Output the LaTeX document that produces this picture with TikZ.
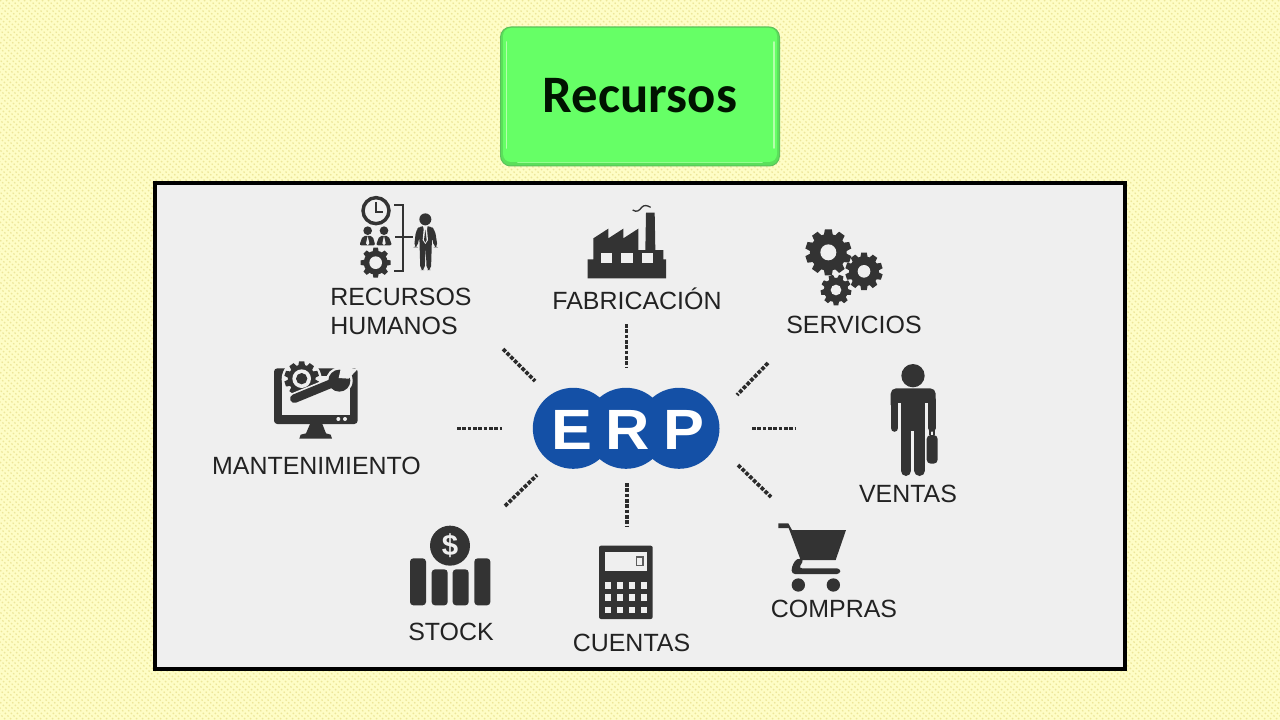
\documentclass[tikz,border=0pt]{standalone}
\usepackage{fontspec}
\setmainfont{Liberation Sans}
\newfontfamily\carlito{Carlito}
\definecolor{paper}{HTML}{FEFDC6}
\definecolor{paperdot}{HTML}{EDE69A}
\definecolor{panelbg}{HTML}{EFEFEF}
\definecolor{ink}{HTML}{333333}
\definecolor{labelink}{HTML}{222222}
\definecolor{erpblue}{HTML}{1450A6}
\definecolor{gband}{HTML}{B4FFAC}
\definecolor{gmain}{HTML}{66FF66}
\definecolor{gedge}{HTML}{5CC05C}
\tikzset{
  x=0.75pt,y=-0.75pt,
  iconlabel/.style={anchor=base,text=labelink,inner sep=0pt,font=\fontsize{18.7}{21.75}\selectfont},
  dots/.style={draw=ink!85!black,line width=2.8pt,dash pattern=on 2.8pt off 1.2pt},
  zoomA/.style={shift={(320,190)},x=0.25pt,y=-0.25pt},
  zoomB/.style={shift={(770,210)},x=0.25pt,y=-0.25pt},
  zoomC/.style={shift={(200,350)},x=0.25pt,y=-0.25pt},
  zoomD/.style={shift={(520,370)},x=0.25pt,y=-0.25pt},
}
\newcommand\mygear[5]{% x y R hole teeth
  \fill[ink] (#1,#2) circle [radius=0.80*#3];
  \foreach \k in {1,...,#5}{
    \fill[ink,rotate around={\k*360/#5:(#1,#2)}]
      ({#1-0.2*#3},{#2+0.72*#3}) -- ({#1-0.15*#3},{#2+#3}) -- ({#1+0.15*#3},{#2+#3}) -- ({#1+0.2*#3},{#2+0.72*#3}) -- cycle;
  }
  \fill[panelbg] (#1,#2) circle [radius=#4];
}
\begin{document}
\begin{tikzpicture}
\useasboundingbox (0,0) rectangle (1280,720);
% paper
\fill[paper] (0,0) rectangle (1280,720);
\begin{scope}
  \clip (0,0) rectangle (1280,720);
  \foreach \k in {-720,-714,...,1280}{
    \draw[paperdot,line width=0.9pt,dash pattern=on 1.2pt off 1.6pt] (\k,0) -- ({\k+720},720);
  }
\end{scope}
% title box
\fill[gedge,rounded corners=8pt] (500,26.5) rectangle (780,166.5);
\fill[gmain!88!black,rounded corners=7.5pt] (501,27.5) rectangle (779,165.5);
\fill[gmain,rounded corners=6pt] (503,28) rectangle (777,162);
\draw[gband,line width=1.4pt,line cap=round] (506.5,42) -- (506.5,148);
\draw[gband,line width=1.4pt,line cap=round] (774,42) -- (774,148);
\draw[gband!60!gmain,line width=1.4pt,line cap=round] (518,162.5) -- (762,162.5);
\node[inner sep=0pt,anchor=base,text=black!92!green,font=\carlito\bfseries\fontsize{39.5}{44}\selectfont] (title) at (640,113) {Recursos};
% panel
\node[draw=black,line width=2.7pt,fill=panelbg,minimum width=727.5pt,minimum height=364.5pt,inner sep=0pt] (panel) at (640,426) {};
% ERP
\fill[erpblue] (573.3,428.3) circle [radius=40.5];
\fill[erpblue] (626,428.3) circle [radius=40.5];
\fill[erpblue] (679,428.3) circle [radius=40.5];
\node[anchor=base west,inner sep=0pt,text=white,font=\addfontfeature{LetterSpace=22}\bfseries\fontsize{42.6}{44}\selectfont] (erp) at (551,449) {\scalebox{1.08}[1]{ERP}};
% connector ends
\coordinate (t1) at (626.5,324); \coordinate (t2) at (626.5,368);
\coordinate (b1) at (626.7,483); \coordinate (b2) at (626.7,527);
\coordinate (l1) at (457,428.5); \coordinate (l2) at (502,428.5);
\coordinate (r1) at (752,428.5); \coordinate (r2) at (796,428.5);
\coordinate (tl1) at (503,349); \coordinate (tl2) at (535,381);
\coordinate (tr1) at (768,363); \coordinate (tr2) at (737,395);
\coordinate (bl1) at (505,506); \coordinate (bl2) at (537,475);
\coordinate (br1) at (738,465); \coordinate (br2) at (771,497);
\foreach \a/\b in {t1/t2,b1/b2,l1/l2,r1/r2,tl1/tl2,tr1/tr2,bl1/bl2,br1/br2}{\draw[dots] (\a) -- (\b);}
% labels
\node[iconlabel,align=left,anchor=base west] (rh) at (330,334.5) {RECURSOS\\HUMANOS};
\node[iconlabel] (fab) at (637,309) {FABRICACIÓN};
\node[iconlabel] (ser) at (854,333) {SERVICIOS};
\node[iconlabel] (ven) at (908,502) {VENTAS};
\node[iconlabel] (com) at (834,617.5) {COMPRAS};
\node[iconlabel] (cue) at (631.5,651.5) {CUENTAS};
\node[iconlabel] (sto) at (451,640.5) {STOCK};
\node[iconlabel] (man) at (316.5,474.5) {MANTENIMIENTO};
% HR icon
\begin{scope}[zoomA]
  \draw[ink,line width=2.6pt] (168,62) circle [radius=39];
  \draw[ink,line width=1.6pt] (168,36) -- (168,65) -- (190,65);
  \fill[ink] (143,122) circle [radius=13];
  \fill[ink] (192,122) circle [radius=13];
  \fill[ink,rounded corners=1.5pt] (118,166) -- (128,138) -- (158,138) -- (166,166) -- cycle;
  \fill[ink,rounded corners=1.5pt] (168,166) -- (178,138) -- (206,138) -- (216,166) -- cycle;
  \fill[panelbg] (143,138) -- (138,160) -- (143,166) -- (148,160) -- cycle;
  \fill[panelbg] (192,138) -- (187,160) -- (192,166) -- (197,160) -- cycle;
  \mygear{167}{218}{45}{19}{8}
  \draw[ink,line width=1.5pt] (222,45) -- (250,45) -- (250,243) -- (222,243);
  \draw[ink,line width=1.5pt] (225,142) -- (278,142);
  \fill[ink] (316,88) circle [radius=18];
  \fill[ink,rounded corners=3pt] (282,172) -- (288,120) -- (300,108) -- (332,108) -- (345,120) -- (353,172) -- (342,172) -- (336,140) -- (333,240) -- (320,240) -- (317,170) -- (314,240) -- (301,240) -- (298,140) -- (292,172) -- cycle;
  \fill[panelbg] (309,108) -- (323,108) -- (321,118) -- (324,150) -- (316,162) -- (308,150) -- (311,118) -- cycle;
  \fill[ink] (316,118) -- (320,150) -- (316,158) -- (312,150) -- cycle;
\end{scope}
% Factory
\begin{scope}[zoomA]
  \fill[ink] (803,265) -- (803,208) -- (820,208) -- (820,145) -- (865,116) -- (865,145) -- (910,116) -- (910,145) -- (955,116) -- (955,180) -- (976,180) -- (978,68) -- (1004,68) -- (1006,180) -- (1030,180) -- (1030,208) -- (1038,208) -- (1038,265) -- cycle;
  \fill[panelbg] (842,188) rectangle (877,218);
  \fill[panelbg] (902,188) rectangle (938,218);
  \fill[panelbg] (965,188) rectangle (1000,218);
  \draw[ink,line width=1pt] (938,60) .. controls (950,68) and (958,62) .. (965,52) .. controls (972,44) and (982,46) .. (992,52);
\end{scope}
% Gears
\begin{scope}[zoomB]
  \mygear{175}{127}{69}{24}{10}
  \mygear{282}{184}{56}{19}{10}
  \mygear{198}{240}{46}{16}{9}
\end{scope}
% Salesman
\begin{scope}[zoomB]
  \fill[ink] (429,497) circle [radius=35];
  \fill[ink,rounded corners=4pt] (362,600) -- (362,535) -- (497,535) -- (497,600) -- cycle;
  \fill[panelbg] (385,578) rectangle (392,662);
  \fill[panelbg] (466,578) rectangle (473,662);
  \fill[panelbg] (362,578) -- (385,578) -- (385,600) -- (362,600) -- cycle;
  \fill[panelbg] (473,578) -- (497,578) -- (497,600) -- (473,600) -- cycle;
  \draw[ink,line width=5.7pt,line cap=round] (373.5,570) -- (373.5,654);
  \draw[ink,line width=5.7pt,line cap=round] (485.5,570) -- (485.5,654);
  \fill[ink] (392,560) rectangle (466,664);
  \draw[ink,line width=8pt,line cap=round] (408,640) -- (408,782);
  \draw[ink,line width=8pt,line cap=round] (449,640) -- (449,782);
  \fill[ink,rounded corners=3pt] (470,675) rectangle (503,761);
  \draw[ink,line width=0.9pt] (480,675) -- (480,655) -- (492,655) -- (492,675);
\end{scope}
% Monitor
\begin{scope}[zoomC]
  \fill[ink,rounded corners=2.5pt] (222,55) rectangle (473,222);
  \fill[panelbg] (246,77) rectangle (449,196);
  \fill[panelbg] (305,88) circle [radius=60];
  \fill[ink] (330,222) -- (367,222) -- (378,250) -- (392,254) -- (396,266) -- (298,266) -- (302,254) -- (318,250) -- cycle;
  \fill[panelbg] (415,207) circle [radius=6];
  \fill[panelbg] (435,207) circle [radius=6];
  \mygear{305}{86}{52}{28}{10}
  \fill[ink] (305,86) circle [radius=17];
  \fill[panelbg] (418,92) circle [radius=40];
  \draw[panelbg,line width=9pt,line cap=round] (283,146) -- (400,98);
  \draw[ink,line width=6.5pt,line cap=round] (283,146) -- (400,98);
  \fill[ink] (418,92) circle [radius=33];
  \fill[panelbg] (416,84) -- (424,48) -- (472,58) -- (446,86) -- cycle;
\end{scope}
% Stock
\begin{scope}[zoomC]
  \fill[ink,rounded corners=2.5pt] (630,625) rectangle (678,766);
  \fill[ink,rounded corners=2.5pt] (695,658) rectangle (743,766);
  \fill[ink,rounded corners=2.5pt] (758,658) rectangle (806,766);
  \fill[ink,rounded corners=2.5pt] (823,625) rectangle (871,766);
  \fill[panelbg] (750,587) circle [radius=66];
  \fill[ink] (750,587) circle [radius=60];
  \node[inner sep=0pt,text=panelbg,font=\bfseries\fontsize{22}{24}\selectfont] (dollar) at (750,587) {\$};
\end{scope}
% Calculator
\begin{scope}[zoomD]
  \fill[ink,rounded corners=1.5pt] (237,527) rectangle (398,747);
  \fill[panelbg] (254,546) rectangle (382,602);
  \draw[ink!80,line width=0.9pt] (350,561) rectangle (369,587);
  \foreach \yy in {637,673,710}{
    \foreach \xx in {254,291,327,363}{
      \fill[panelbg] (\xx,\yy) rectangle ({\xx+19},{\yy+20});
    }
  }
\end{scope}
% Cart
\begin{scope}[zoomD]
  \fill[ink] (775,460) -- (805,460) -- (816,480) -- (978,480) -- (947,570) -- (842,570) -- (806,474) -- (775,474) -- cycle;
  \fill[ink,rounded corners=2.5pt] (830,565) -- (815,590) -- (815,612) -- (961,612) -- (961,595) -- (836,595) -- (852,568) -- cycle;
  \fill[ink] (835,645) circle [radius=20];
  \fill[ink] (940,645) circle [radius=20];
\end{scope}
\end{tikzpicture}
\end{document}
